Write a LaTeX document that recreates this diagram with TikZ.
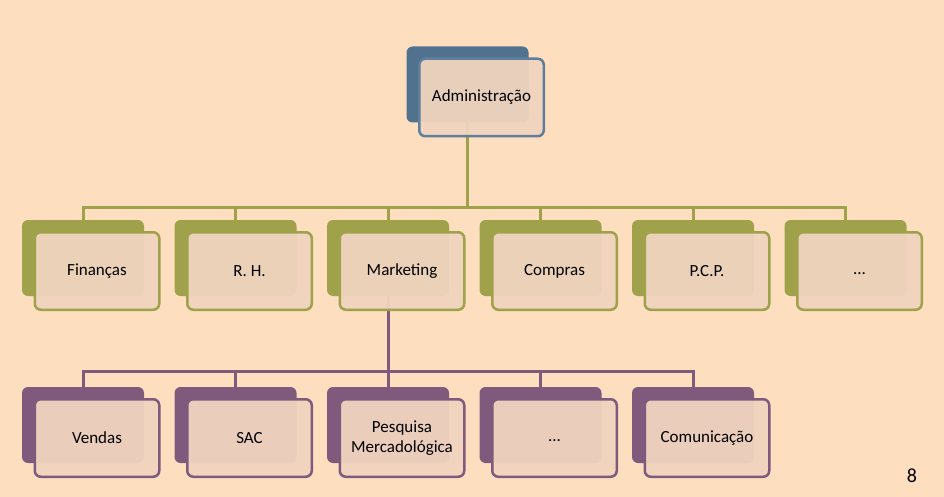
\documentclass[tikz,border=0pt]{standalone}
\usepackage{fontspec}
\setmainfont{Carlito}
\usepackage{tikz}
\usetikzlibrary{positioning}

\definecolor{pagebg}{HTML}{FDDFC0}
\definecolor{frontfill}{HTML}{F0D4BE}
\definecolor{admblue}{HTML}{50728F}
\definecolor{admline}{HTML}{5E7E9B}
\definecolor{depgreen}{HTML}{9FA24A}
\definecolor{subpurple}{HTML}{7F5A7C}

\pgfdeclarelayer{bg}
\pgfdeclarelayer{edges}
\pgfsetlayers{bg,edges,main}

\tikzset{
  backbox/.style={rectangle,rounded corners=6pt,minimum width=122pt,minimum height=76pt,inner sep=0pt},
  frontbox/.style={rectangle,rounded corners=6pt,line width=2.5pt,minimum width=124.5pt,minimum height=77.5pt,
                   inner sep=2pt,fill=frontfill,fill opacity=0.95,text opacity=1,align=center,
                   font=\fontsize{17}{19.5}\selectfont},
  gline/.style={draw=depgreen,line width=3pt},
  pline/.style={draw=subpurple,line width=3pt},
}

\begin{document}
\begin{tikzpicture}[x=1pt,y=-1pt]
\useasboundingbox (0,0) rectangle (944,497);
\begin{pgfonlayer}{bg}
    \fill[pagebg] (0,0) rectangle (944,497);
\end{pgfonlayer}

% top
\node[backbox,fill=admblue] (AdmB) at (467.5,84.5) {};
\node[frontbox,draw=admline] (Adm) at ([shift={(14,13)}]AdmB.center) {Administração};

% departments
\begin{scope}
    \node[backbox,fill=depgreen] (FinB) at (83,258) {};
    \node[backbox,fill=depgreen] (RHB) at (235.5,258) {};
    \node[backbox,fill=depgreen] (MktB) at (388,258) {};
    \node[backbox,fill=depgreen] (ComB) at (540.5,258) {};
    \node[backbox,fill=depgreen] (PCPB) at (693,258) {};
    \node[backbox,fill=depgreen] (EtcB) at (845.5,258) {};

    \node[frontbox,draw=depgreen] (Fin) at ([shift={(14,13)}]FinB.center) {Finanças};
    \node[frontbox,draw=depgreen] (RH) at ([shift={(14,13)}]RHB.center) {R. H.};
    \node[frontbox,draw=depgreen] (Mkt) at ([shift={(14,13)}]MktB.center) {Marketing};
    \node[frontbox,draw=depgreen] (Com) at ([shift={(14,13)}]ComB.center) {Compras};
    \node[frontbox,draw=depgreen] (PCP) at ([shift={(14,13)}]PCPB.center) {P.C.P.};
    \node[frontbox,draw=depgreen] (Etc) at ([shift={(14,13)}]EtcB.center) {\strut...};
\end{scope}

% marketing
\begin{scope}
    \node[backbox,fill=subpurple] (VenB) at (83,425) {};
    \node[backbox,fill=subpurple] (SACB) at (235.5,425) {};
    \node[backbox,fill=subpurple] (PesB) at (388,425) {};
    \node[backbox,fill=subpurple] (MEtcB) at (540.5,425) {};
    \node[backbox,fill=subpurple] (CmcB) at (693,425) {};

    \node[frontbox,draw=subpurple] (Ven) at ([shift={(14,13)}]VenB.center) {Vendas};
    \node[frontbox,draw=subpurple] (SAC) at ([shift={(14,13)}]SACB.center) {SAC};
    \node[frontbox,draw=subpurple] (Pes) at ([shift={(14,13)}]PesB.center) {Pesquisa\\Mercadológica};
    \node[frontbox,draw=subpurple] (MEtc) at ([shift={(14,13)}]MEtcB.center) {\strut...};
    \node[frontbox,draw=subpurple] (Cmc) at ([shift={(14,13)}]CmcB.center) {Comunicação};
\end{scope}

\node[font=\fontsize{20}{24}\selectfont] (pnum) at (912,476) {8};

\begin{pgfonlayer}{edges}
    \coordinate (bus1) at (467.5,207);
    \coordinate (bus2) at (388,371);

    \draw[gline] (AdmB.center) -- (bus1);
    \draw[gline] (bus1) -| (FinB.north);
    \draw[gline] (bus1) -| (RHB.north);
    \draw[gline] (bus1) -| (MktB.north);
    \draw[gline] (bus1) -| (ComB.north);
    \draw[gline] (bus1) -| (PCPB.north);
    \draw[gline] (bus1) -| (EtcB.north);

    \draw[pline] (MktB.center) -- (bus2);
    \draw[pline] (bus2) -| (VenB.north);
    \draw[pline] (bus2) -| (SACB.north);
    \draw[pline] (bus2) -| (PesB.north);
    \draw[pline] (bus2) -| (MEtcB.north);
    \draw[pline] (bus2) -| (CmcB.north);
\end{pgfonlayer}
\end{tikzpicture}
\end{document}
